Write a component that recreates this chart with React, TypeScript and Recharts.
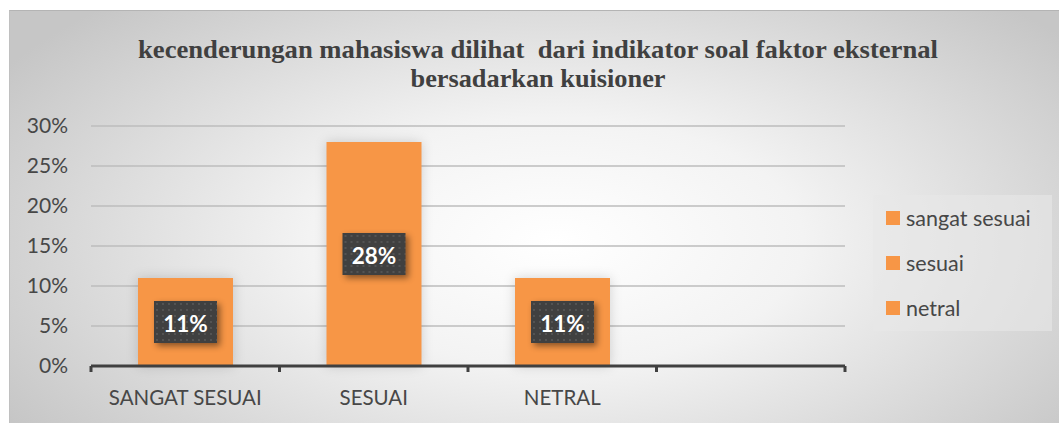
import React from "react";
import { BarChart, Bar, XAxis, YAxis, CartesianGrid, LabelList } from "recharts";

// chart values
const categories = ["SANGAT SESUAI", "SESUAI", "NETRAL", ""];
const shares = [0.11, 0.28, 0.11, null];
const legendNames = ["sangat sesuai", "sesuai", "netral"];
const yTicks = [0, 0.05, 0.1, 0.15, 0.2, 0.25, 0.3];
const titleLines = [
  "kecenderungan mahasiswa dilihat  dari indikator soal faktor eksternal",
  "bersadarkan kuisioner",
];

const ORANGE = "#F79646";
const TEXT = "#474747";
const FONT = "Lato, 'Open Sans', sans-serif";

const data = categories.map((name, i) => ({ name, value: shares[i] }));

const pct = (v: number) => `${Math.round(v * 100)}%`;

const XTick = (props: any) => {
  const { x, y, payload, index } = props;
  const half = payload && payload.offset ? payload.offset : 94;
  const last = index === categories.length - 1;
  return (
    <g>
      <line x1={x - half} x2={x - half} y1={y} y2={y + 6} stroke="#404040" strokeWidth={3} />
      {last && <line x1={x + half} x2={x + half} y1={y} y2={y + 6} stroke="#404040" strokeWidth={3} />}
      <text
        x={x}
        y={y + 31}
        textAnchor="middle"
        dominantBaseline="central"
        fill={TEXT}
        fontFamily={FONT}
        fontSize={20.5}
      >
        {payload.value}
      </text>
    </g>
  );
};

const ShadowBar = (p: any) => {
  if (!p.height) return null;
  return (
    <rect
      x={p.x}
      y={p.y}
      width={p.width}
      height={p.height}
      fill={ORANGE}
      style={{ filter: "drop-shadow(0 0 6px rgba(0,0,0,0.16))" }}
    />
  );
};

const DataLabel = (props: any) => {
  const { value, index } = props;
  if (value == null) return null;
  const vb = props.viewBox && props.viewBox.width != null ? props.viewBox : props;
  const cx = vb.x + vb.width / 2;
  const cy = vb.y + vb.height / 2;
  const w = 63;
  const h = 42;
  const id = `dots-${index}`;
  return (
    <g>
      <defs>
        <pattern id={id} x={cx - w / 2} y={cy - h / 2} width={6} height={6} patternUnits="userSpaceOnUse">
          <rect width={6} height={6} fill="#404040" />
          <circle cx={3} cy={3} r={0.9} fill="#5c5c5c" />
        </pattern>
      </defs>
      <rect
        x={cx - w / 2}
        y={cy - h / 2}
        width={w}
        height={h}
        fill={`url(#${id})`}
        style={{ filter: "drop-shadow(3px 3px 3px rgba(0,0,0,0.45))" }}
      />
      <text
        x={cx}
        y={cy + 1}
        textAnchor="middle"
        dominantBaseline="central"
        fill="#ffffff"
        fontFamily={FONT}
        fontWeight="bold"
        fontSize={22.5}
      >
        {pct(value)}
      </text>
    </g>
  );
};

export default function App() {
  return (
    <div style={{ position: "fixed", left: 0, top: 0, width: 1059, height: 423, overflow: "hidden", background: "#fff" }}>
      <div
        style={{
          position: "absolute",
          left: 9,
          top: 10,
          width: 1050,
          height: 420,
          borderTop: "1px solid #b4b4b4",
          borderLeft: "1px solid #c0c0c0",
          background:
            "radial-gradient(ellipse 62% 78% at 52% 55%, #ffffff 0%, #f3f3f3 38%, #c6c6c6 100%)",
        }}
      />
      <svg width={1059} height={110} style={{ position: "absolute", left: 0, top: 0 }}>
        <text
          x={538}
          y={58}
          textAnchor="middle"
          fontFamily="'Liberation Serif', 'Times New Roman', serif"
          fontWeight="bold"
          fontSize={26}
          fill="#404040"
          textLength={800}
          lengthAdjust="spacingAndGlyphs"
          style={{ whiteSpace: "pre" }}
        >
          {titleLines[0]}
        </text>
        <text
          x={538}
          y={87}
          textAnchor="middle"
          fontFamily="'Liberation Serif', 'Times New Roman', serif"
          fontWeight="bold"
          fontSize={26}
          fill="#404040"
          textLength={255}
          lengthAdjust="spacingAndGlyphs"
        >
          {titleLines[1]}
        </text>
      </svg>
      <div style={{ position: "absolute", left: 0, top: 0 }}>
        <BarChart
          width={1059}
          height={423}
          data={data}
          margin={{ top: 126, right: 214, bottom: 17, left: 0 }}
          barCategoryGap={0}
        >
          <CartesianGrid vertical={false} stroke="#bdbdbd" strokeWidth={1.5} />
          <YAxis
            type="number"
            domain={[0, 0.3]}
            ticks={yTicks}
            width={91}
            axisLine={false}
            tickLine={false}
            tickSize={0}
            tickMargin={23}
            tickFormatter={pct}
            tick={{ fontFamily: FONT, fontSize: 21, fill: TEXT }}
          />
          <XAxis
            dataKey="name"
            type="category"
            height={40}
            interval={0}
            tickSize={0}
            tickMargin={0}
            axisLine={{ stroke: "#404040", strokeWidth: 3 }}
            tickLine={false}
            tick={<XTick />}
          />
          <Bar dataKey="value" barSize={95} shape={<ShadowBar />} isAnimationActive={false}>
            <LabelList dataKey="value" content={<DataLabel />} />
          </Bar>
        </BarChart>
      </div>
      <div
        style={{
          position: "absolute",
          left: 873,
          top: 195,
          width: 179,
          height: 136,
          background: "rgba(232,232,232,0.6)",
          fontFamily: FONT,
          fontSize: 21.5,
          color: TEXT,
        }}
      >
        {legendNames.map((n, i) => (
          <div
            key={n}
            style={{ position: "absolute", left: 13, top: 45 * i, height: 46, display: "flex", alignItems: "center" }}
          >
            <span style={{ width: 14, height: 14, background: ORANGE, display: "inline-block", marginRight: 6, flexShrink: 0 }} />
            <span style={{ whiteSpace: "nowrap" }}>{n}</span>
          </div>
        ))}
      </div>
    </div>
  );
}
